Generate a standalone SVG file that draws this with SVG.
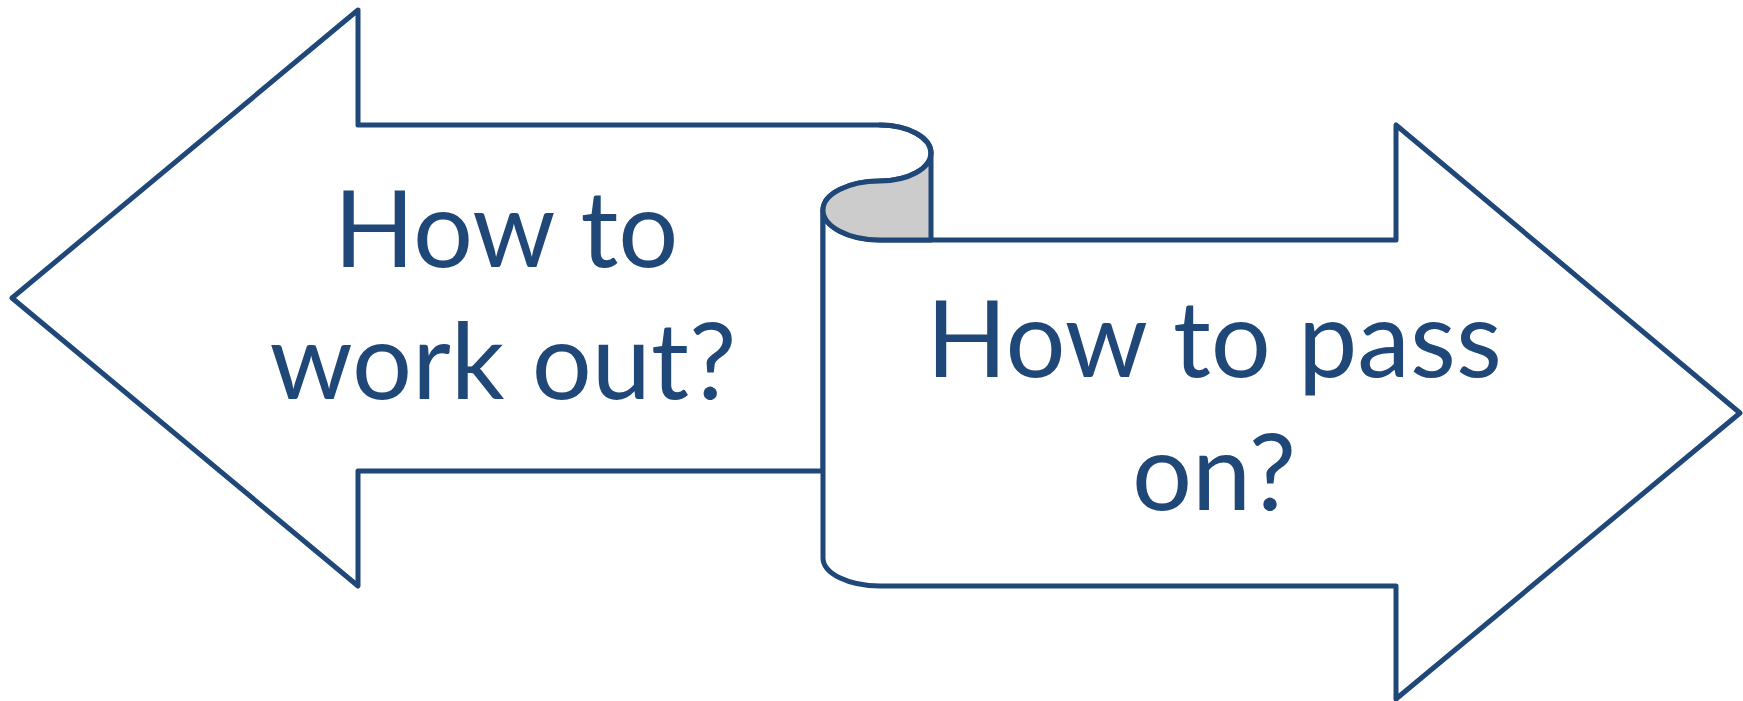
<svg xmlns="http://www.w3.org/2000/svg" width="1743" height="701" viewBox="0 0 1743 701">
  <style>
    .shape { fill: #ffffff; stroke: #1F4778; stroke-width: 5; stroke-linejoin: round; stroke-linecap: round; }
    .shade { fill: #CCCCCC; stroke: #1F4778; stroke-width: 5; stroke-linejoin: round; }
    .line { fill: none; stroke: #1F4778; stroke-width: 5; stroke-linecap: round; }
    .label { font-family: Lato, "Liberation Sans", sans-serif; font-size: 106px; fill: #1F4778; text-anchor: middle; }
  </style>
  <rect width="1743" height="701" fill="#ffffff"/>
  <g id="left-arrow">
    <path class="shape" d="M880,125 H358 V10 L12,298 L358,586 V471 H823 V210 A57,29 0 0 1 880,181 A51,28 0 0 0 931,153 A51,28 0 0 0 880,125 Z"/>
    <text class="label" x="506" y="267">How to</text>
    <text class="label" x="503" y="399">work out?</text>
  </g>
  <g id="right-arrow">
    <path class="shape" d="M823,210 V558 A57,28 0 0 0 880,586 H1396 V699 L1740,413 L1396,125 V240 H880 A57,30 0 0 1 823,210 Z"/>
    <path class="shade" d="M823,210 A57,29 0 0 1 880,181 A51,28 0 0 0 931,153 V240 H880 A57,30 0 0 1 823,210 Z"/>
    <path class="line" d="M880,125 A51,28 0 0 1 931,153"/>
    <text class="label" x="1214" y="377">How to pass</text>
    <text class="label" x="1214" y="510">on?</text>
  </g>
</svg>
